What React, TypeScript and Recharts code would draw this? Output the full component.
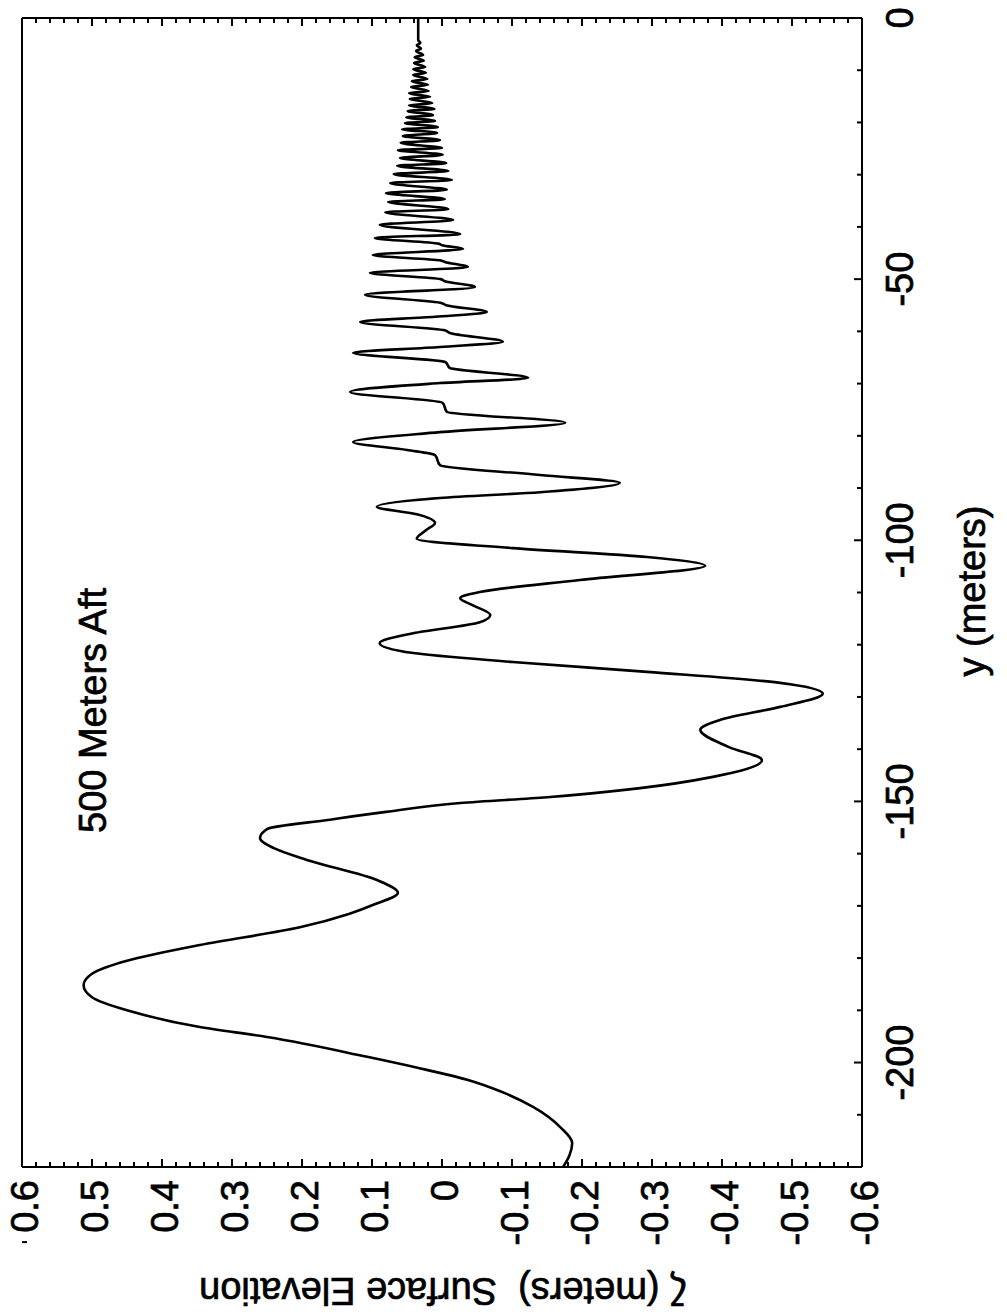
import { LineChart, Line, XAxis, YAxis } from 'recharts'

// y (meters) along the wake, and surface elevation zeta (meters)
const distance = [
  -220.0, -217.8, -215.4, -212.5, -208.5, -205.6, -203.3, -201.0, -198.9, -195.1,
  -193.2, -190.0, -187.5, -185.2, -183.0, -180.5, -177.5, -174.1, -171.5, -169.8,
  -167.5, -165.1, -161.2, -158.9, -157.0, -155.3, -153.5, -152.0, -150.3, -149.2,
  -147.5, -145.3, -142.1, -139.6, -136.3, -134.4, -131.9, -129.4, -127.3, -125.2,
  -123.3, -121.6, -119.7, -117.8, -115.7, -114.3, -112.5, -111.1, -109.9, -107.6,
  -104.9, -103.2, -101.5, -99.7, -98.0, -96.7, -95.0, -93.6, -91.9, -90.8,
  -89.0, -87.5, -85.6, -83.7, -82.7, -81.2, -79.3, -77.5, -75.4, -73.7,
  -71.6, -69.9, -68.9, -67.0, -65.9, -64.1, -63.0, -62.0, -60.3, -59.8,
  -58.2, -57.2, -56.3, -55.0, -54.6, -53.0, -51.5, -50.4, -50.0, -48.8,
  -47.7, -46.7, -46.4, -45.4, -44.2, -43.5, -43.2, -42.1, -41.4, -39.6,
  -38.7, -37.2, -36.6, -35.2, -34.7, -33.5, -32.9, -31.6, -31.0, -29.9,
  -29.3, -28.3, -27.8, -26.8, -26.2, -25.3, -24.9, -23.9, -23.4, -22.6,
  -22.0, -21.3, -20.9, -20.1, -19.7, -19.0, -18.6, -17.8, -17.4, -16.7,
  -16.3, -15.5, -15.1, -14.4, -14.0, -13.2, -12.8, -12.1, -11.7, -10.9,
  -10.5, -9.8, -9.4, -8.6, -8.2, -7.5, -7.1, -6.3, -5.9, -5.2,
  -4.8, -4.2, -2.3, 0.0,
]

const elevation = [
  -0.173, -0.182, -0.186, -0.170, -0.130, -0.085, -0.036, 0.035, 0.107, 0.250,
  0.346, 0.450, 0.500, 0.512, 0.500, 0.450, 0.346, 0.203, 0.132, 0.098,
  0.063, 0.092, 0.193, 0.241, 0.260, 0.250, 0.160, 0.080, -0.026, -0.150,
  -0.280, -0.387, -0.457, -0.410, -0.369, -0.397, -0.483, -0.544, -0.483, -0.293,
  -0.101, 0.041, 0.089, 0.041, -0.054, -0.069, -0.045, -0.026, -0.054, -0.197,
  -0.376, -0.293, -0.101, 0.036, 0.022, 0.010, 0.036, 0.093, 0.003, -0.140,
  -0.254, -0.140, 0.003, 0.010, 0.050, 0.127, 0.003, -0.176, -0.007, -0.001,
  0.131, 0.003, -0.123, -0.011, -0.005, 0.127, 0.003, -0.087, -0.011, -0.004,
  0.117, 0.010, -0.064, -0.006, 0.000, 0.110, -0.047, -0.004, 0.002, 0.103,
  -0.037, -0.004, 0.003, 0.099, -0.030, 0.000, 0.005, 0.096, -0.026, 0.089,
  -0.016, 0.081, -0.009, 0.077, -0.004, 0.080, -0.007, 0.074, -0.014, 0.069,
  -0.009, 0.064, -0.006, 0.060, -0.001, 0.063, 0.000, 0.059, 0.003, 0.056,
  0.007, 0.057, 0.006, 0.053, 0.010, 0.051, 0.013, 0.049, 0.011, 0.047,
  0.014, 0.046, 0.017, 0.047, 0.019, 0.044, 0.020, 0.043, 0.021, 0.041,
  0.023, 0.041, 0.024, 0.040, 0.026, 0.039, 0.027, 0.037, 0.030, 0.036,
  0.031, 0.034, 0.034, 0.034,
]

const distanceLabels = [-200, -150, -100, -50, 0]
const distanceTicks = [
  -210, -200, -190, -180, -170, -160, -150, -140, -130, -120, -110,
  -100, -90, -80, -70, -60, -50, -40, -30, -20, -10, 0,
]
const elevationLabels = [0.6, 0.5, 0.4, 0.3, 0.2, 0.1, 0, -0.1, -0.2, -0.3, -0.4, -0.5, -0.6]

// minor ticks every 0.02 between the labelled ones
const elevationTicks: number[] = []
elevationLabels.forEach((v, i) => {
  elevationTicks.push(v)
  if (i < elevationLabels.length - 1) {
    for (let k = 1; k < 5; k++) elevationTicks.push(Math.round((v - k * 0.02) * 100) / 100)
  }
})

const data = distance.map((d, i) => ({ dist: d, zeta: elevation[i] }))

const FONT = '"Liberation Sans", Arial, Helvetica, sans-serif'
const FS = 38
const MAJOR = 8
const MINOR = 5
// scanned print: glyphs look a little heavier than the plain font
const ink = { fill: '#000', stroke: '#000', strokeWidth: 0.7 }

const isMajorZeta = (v: number) => Math.abs(v * 10 - Math.round(v * 10)) < 1e-6
const zetaLabel = (v: number) => (Math.abs(v) < 1e-9 ? '0' : v.toFixed(1))

function BottomTick(props: any) {
  const { x, y, payload } = props
  const v = payload.value
  const major = distanceLabels.includes(v)
  return (
    <g>
      <line x1={x} y1={y} x2={x} y2={y - (major ? MAJOR : MINOR)} stroke="#000" strokeWidth={2} />
      {major && (
        <text x={x} y={y + 51} textAnchor="middle" fontSize={FS} fontFamily={FONT} {...ink}>
          {v}
        </text>
      )}
    </g>
  )
}

function TopTick(props: any) {
  const { x, y, payload } = props
  const major = distanceLabels.includes(payload.value)
  return <line x1={x} y1={y} x2={x} y2={y + (major ? MAJOR : MINOR)} stroke="#000" strokeWidth={2} />
}

function LeftTick(props: any) {
  const { x, y, payload } = props
  const v = payload.value
  const major = isMajorZeta(v)
  return (
    <g>
      <line x1={x} y1={y} x2={x + (major ? MAJOR : MINOR)} y2={y} stroke="#000" strokeWidth={2} />
      {major && (
        <text x={x - 13} y={y + 16} textAnchor="end" fontSize={FS} fontFamily={FONT} {...ink}>
          {zetaLabel(v)}
        </text>
      )}
    </g>
  )
}

function RightTick(props: any) {
  const { x, y, payload } = props
  const major = isMajorZeta(payload.value)
  return <line x1={x} y1={y} x2={x - (major ? MAJOR : MINOR)} y2={y} stroke="#000" strokeWidth={2} />
}

const axisLine = { stroke: '#000', strokeWidth: 2 }

export default function App() {
  return (
    <div style={{ position: 'absolute', left: 0, top: 0, width: 1007, height: 1316, overflow: 'hidden', background: '#fff' }}>
      {/* the figure is printed sideways: draw it landscape and turn it a quarter turn */}
      <div
        style={{
          position: 'absolute',
          left: 0,
          top: 0,
          width: 1316,
          height: 1007,
          transform: 'translateY(1316px) rotate(-90deg)',
          transformOrigin: '0 0',
        }}
      >
        <LineChart width={1316} height={1007} data={data} margin={{ top: 12, right: 8, bottom: 105, left: 89 }}>
          <XAxis
            xAxisId="b"
            dataKey="dist"
            type="number"
            domain={[-220, 0]}
            allowDataOverflow
            ticks={distanceTicks}
            interval={0}
            height={40}
            tick={<BottomTick />}
            tickLine={false}
            tickSize={0}
            tickMargin={0}
            axisLine={axisLine}
          />
          <XAxis
            xAxisId="t"
            orientation="top"
            type="number"
            domain={[-220, 0]}
            allowDataOverflow
            ticks={distanceTicks}
            interval={0}
            height={10}
            tick={<TopTick />}
            tickLine={false}
            tickSize={0}
            tickMargin={0}
            axisLine={axisLine}
          />
          <YAxis
            yAxisId="l"
            type="number"
            domain={[-0.6, 0.6]}
            allowDataOverflow
            ticks={elevationTicks}
            interval={0}
            width={60}
            tick={<LeftTick />}
            tickLine={false}
            tickSize={0}
            tickMargin={0}
            axisLine={axisLine}
          />
          <YAxis
            yAxisId="r"
            orientation="right"
            type="number"
            domain={[-0.6, 0.6]}
            allowDataOverflow
            ticks={elevationTicks}
            interval={0}
            width={10}
            tick={<RightTick />}
            tickLine={false}
            tickSize={0}
            tickMargin={0}
            axisLine={axisLine}
          />
          <Line
            xAxisId="b"
            yAxisId="l"
            dataKey="zeta"
            type="monotone"
            stroke="#000"
            strokeWidth={2.6}
            dot={false}
            isAnimationActive={false}
          />
        </LineChart>
        <svg width={1316} height={1007} style={{ position: 'absolute', left: 0, top: 0, pointerEvents: 'none' }}>
          <text x={483} y={106} fontSize={FS} fontFamily={FONT} {...ink}>
            500 Meters Aft
          </text>
          <text x={725} y={985} textAnchor="middle" fontSize={FS} fontFamily={FONT} {...ink}>
            y (meters)
          </text>
          <text
            x={38}
            y={443}
            textAnchor="middle"
            transform="rotate(-90 38 443)"
            fontSize={FS}
            fontFamily={FONT}
            style={{ whiteSpace: 'pre' }}
            {...ink}
          >
            {'ζ (meters)  Surface Elevation'}
          </text>
        </svg>
      </div>
    </div>
  )
}
